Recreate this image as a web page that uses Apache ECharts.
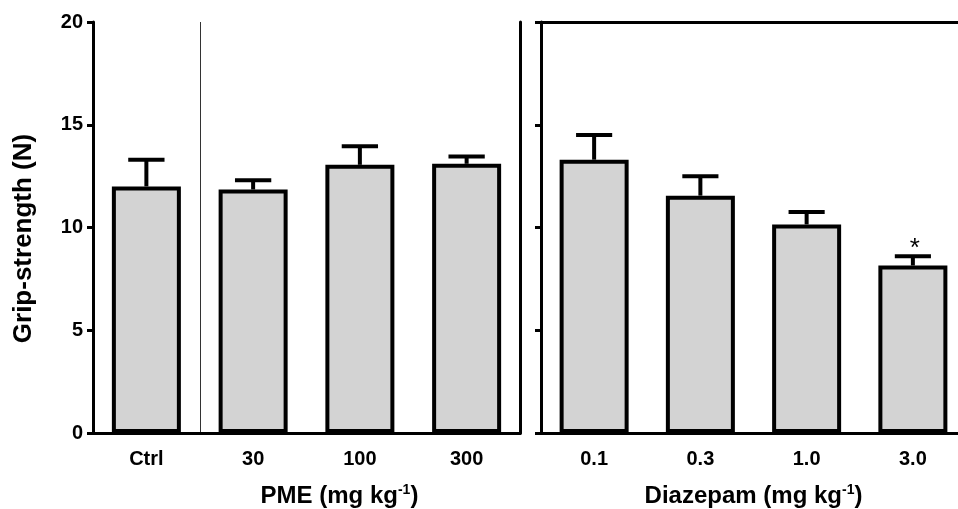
<!DOCTYPE html>
<html>
<head>
<meta charset="utf-8">
<script src="https://cdn.jsdelivr.net/npm/echarts@6/dist/echarts.min.js"></script>
<style>
html, body { margin: 0; padding: 0; background: #fff; }
#main { width: 958px; height: 509px; }
</style>
</head>
<body>
<div id="main"></div>
<script>
// PME panel
var pmeCats = ['Ctrl', '30', '100', '300'];
var pmeMean = [12.0, 11.85, 13.05, 13.1];
var pmeErr = [1.3, 0.45, 0.9, 0.35];
var pmeSig = [0, 0, 0, 0];

// Diazepam panel
var diaCats = ['0.1', '0.3', '1.0', '3.0'];
var diaMean = [13.3, 11.55, 10.15, 8.15];
var diaErr = [1.2, 0.95, 0.6, 0.45];
var diaSig = [0, 0, 0, 1];

var yTicks = [0, 5, 10, 15, 20];

var font = 'Liberation Sans, Arial, sans-serif';
var lineSt = { color: '#000', width: 3 };
var clear = 'rgba(0,0,0,0)';

function errData(mean, err, sig) {
    var out = [];
    for (let i = 0; i < mean.length; i++) {
        out.push([i, mean[i], err[i], sig[i]]);
    }
    return out;
}

function renderErr(params, api) {
    var i = api.value(0);
    var base = api.coord([i, api.value(1)]);
    var top = api.coord([i, api.value(1) + api.value(2)]);
    var half = api.size([1, 0])[0] * 0.17;
    var children = [
        { type: 'line', shape: { x1: base[0], y1: base[1], x2: top[0], y2: top[1] },
          style: { stroke: '#000', lineWidth: 4 } },
        { type: 'line', shape: { x1: top[0] - half, y1: top[1], x2: top[0] + half, y2: top[1] },
          style: { stroke: '#000', lineWidth: 4 } }
    ];
    if (api.value(3)) {
        children.push({ type: 'text', x: top[0] + 2, y: top[1] - 7,
            style: { text: '*', fill: '#000', font: '26px ' + font, align: 'center', verticalAlign: 'middle' } });
    }
    return { type: 'group', children: children };
}

function axisName(txt) {
    return '{a|' + txt + ' (mg kg}{s|-1}{a|)}';
}
var nameRich = {
    a: { fontSize: 24, fontWeight: 'bold', fontFamily: font, color: '#000' },
    s: { fontSize: 14, fontWeight: 'bold', fontFamily: font, color: '#000', padding: [0, 0, 12, 0] }
};

function bottomX(grid, cats, title, sep, shift) {
    return {
        type: 'category', gridIndex: grid, data: cats, position: 'bottom',
        axisLine: { lineStyle: lineSt },
        axisTick: { alignWithLabel: true, length: 6, lineStyle: { color: '#000', width: 3 } },
        axisLabel: { color: '#000', fontSize: 20, fontWeight: 'bold', fontFamily: font, margin: 16 },
        splitLine: { show: sep, interval: 0,
                     lineStyle: { color: [clear, '#333', clear, clear, clear], width: 1 } },
        name: axisName(title), nameLocation: 'middle', nameGap: 50,
        nameTextStyle: { rich: nameRich, padding: [0, 0, 0, shift] }
    };
}
function topX(grid, cats) {
    return {
        type: 'category', gridIndex: grid, data: cats, position: 'top',
        axisLine: { lineStyle: lineSt }, axisTick: { show: false }, axisLabel: { show: false }
    };
}
function leftY(grid, labels) {
    return {
        type: 'value', gridIndex: grid, min: 0, max: 20, interval: 5, position: 'left',
        axisLine: { show: true, lineStyle: lineSt },
        axisTick: { show: true, length: 6, lineStyle: { color: '#000', width: 3 } },
        axisLabel: { show: labels, color: '#000', fontSize: 20, fontWeight: 'bold', fontFamily: font, margin: 10 },
        splitLine: { show: false },
        name: labels ? 'Grip-strength (N)' : '', nameLocation: 'middle', nameGap: 56,
        nameTextStyle: { color: '#000', fontSize: 26, fontWeight: 'bold', fontFamily: font,
                         padding: [0, 22, 0, 0] }
    };
}

var myChart = echarts.init(document.getElementById('main'));
var option = {
    animation: false,
    grid: [
        { left: 93, right: 438, top: 22, bottom: 76, outerBoundsMode: 'none' },
        { left: 541, right: -8, top: 22, bottom: 76, outerBoundsMode: 'none' }
    ],
    xAxis: [
        bottomX(0, pmeCats, 'PME', true, 66),
        topX(0, pmeCats),
        bottomX(1, diaCats, 'Diazepam', false, 0),
        topX(1, diaCats)
    ],
    yAxis: [
        leftY(0, true),
        { type: 'value', gridIndex: 0, min: 0, max: 20, position: 'right',
          axisLine: { show: true, lineStyle: lineSt }, axisTick: { show: false },
          axisLabel: { show: false }, splitLine: { show: false } },
        leftY(1, false)
    ],
    series: [
        { type: 'custom', xAxisIndex: 0, yAxisIndex: 0, renderItem: renderErr,
          data: errData(pmeMean, pmeErr, pmeSig), z: 1 },
        { type: 'bar', xAxisIndex: 0, yAxisIndex: 0, data: pmeMean, barWidth: 69, z: 2,
          itemStyle: { color: '#d3d3d3', borderColor: '#000', borderWidth: 4 } },
        { type: 'custom', xAxisIndex: 2, yAxisIndex: 2, renderItem: renderErr,
          data: errData(diaMean, diaErr, diaSig), z: 1 },
        { type: 'bar', xAxisIndex: 2, yAxisIndex: 2, data: diaMean, barWidth: 69, z: 2,
          itemStyle: { color: '#d3d3d3', borderColor: '#000', borderWidth: 4 } }
    ]
};
myChart.setOption(option);
</script>
</body>
</html>
